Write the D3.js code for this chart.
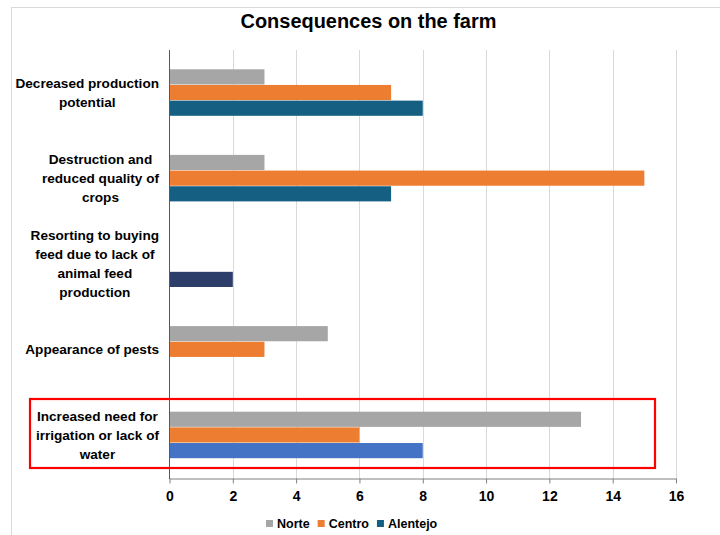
<!DOCTYPE html>
<html><head><meta charset="utf-8">
<script src="https://cdn.jsdelivr.net/npm/d3@7"></script>
<style>body{margin:0;background:#fff}svg{display:block}</style>
</head><body>
<script>
const categories = [
  ["Decreased production","potential"],
  ["Destruction and","reduced quality of","crops"],
  ["Resorting to buying","feed due to lack of","animal feed","production"],
  ["Appearance of pests"],
  ["Increased need for","irrigation or lack of","water"]
];
const seriesNames = ["Norte","Centro","Alentejo"];
const norte    = [3, 3, null, 5, 13];
const centro   = [7, 15, null, 3, 6];
const alentejo = [8, 7, 2, null, 8];
const xTicks = [0,2,4,6,8,10,12,14,16];
const colors = {Norte:"#A6A6A6", Centro:"#ED7D31", Alentejo:"#156082"};
// per-point colour overrides visible in the picture
const alentejoPointColors = [null, null, "#2E3E6B", null, "#4472C4"];

const W=720,H=535;
const svg=d3.select("body").append("svg").attr("width",W).attr("height",H);
const font="'Liberation Sans', Arial, sans-serif";

// chart frame
svg.append("rect").attr("x",11.5).attr("y",7.5).attr("width",W+20).attr("height",H+20)
  .attr("fill","#fff").attr("stroke","#D9D9D9").attr("stroke-width",1);

const x=d3.scaleLinear().domain([0,16]).range([169.5,676]);
const y=d3.scaleBand().domain(d3.range(categories.length)).range([50,478]).padding(0);
const groupH=47;
const ys=d3.scaleBand().domain(seriesNames).range([0,groupH]);

// gridlines
svg.append("g").selectAll("line").data(xTicks.slice(1)).join("line")
  .attr("x1",d=>Math.round(x(d))+0.5).attr("x2",d=>Math.round(x(d))+0.5)
  .attr("y1",50).attr("y2",478).attr("stroke","#D9D9D9").attr("stroke-width",1);

// bars
const data=[];
categories.forEach((c,i)=>{
  [["Norte",norte[i]],["Centro",centro[i]],["Alentejo",alentejo[i]]].forEach(([s,v])=>{
    if(v!=null){
      let col=colors[s];
      if(s==="Alentejo"&&alentejoPointColors[i]) col=alentejoPointColors[i];
      data.push({i,s,v,col});
    }
  });
});
svg.append("g").selectAll("rect").data(data).join("rect")
  .attr("x",x(0)).attr("width",d=>x(d.v)-x(0))
  .attr("y",d=>y(d.i)+y.bandwidth()/2-groupH/2+ys(d.s))
  .attr("height",ys.bandwidth()-0.5)
  .attr("fill",d=>d.col);

// x axis
const xa=svg.append("g").attr("transform","translate(0,478.5)")
  .call(d3.axisBottom(x).tickValues(xTicks).tickSize(5).tickSizeOuter(0).tickPadding(8));
xa.select(".domain").attr("stroke","#808080");
xa.selectAll(".tick line").attr("stroke","#808080");
xa.selectAll(".tick text").attr("font-family",font).attr("font-weight","bold")
  .attr("font-size",14).attr("fill","#000");

// vertical axis line
svg.append("line").attr("x1",169.5).attr("x2",169.5).attr("y1",50).attr("y2",479)
  .attr("stroke","#595959").attr("stroke-width",1);

// category labels
const lineH=19, labelRight=159;
const lg=svg.append("g");
categories.forEach((lines,i)=>{
  const g=lg.append("g");
  const cy=y(i)+y.bandwidth()/2;
  const texts=lines.map((t,k)=>g.append("text").text(t)
    .attr("font-family",font).attr("font-weight","bold").attr("font-size",13.6)
    .attr("fill","#000").attr("text-anchor","middle")
    .attr("y",cy+(k-(lines.length-1)/2)*lineH).attr("dy","0.35em"));
  const maxW=d3.max(texts,t=>t.node().getComputedTextLength());
  texts.forEach(t=>t.attr("x",labelRight-maxW/2));
});

// title
const title=svg.append("text").text("Consequences on the farm")
  .attr("x",368.5).attr("y",21.5).attr("dy","0.35em").attr("text-anchor","middle")
  .attr("font-family",font)
  .attr("font-weight","bold").attr("font-size",18).attr("fill","#000");
const tw=title.node().getComputedTextLength();
title.attr("font-size",Math.min(20,18*256/tw));

// highlight rectangle
svg.append("rect").attr("x",30).attr("y",399).attr("width",625).attr("height",69)
  .attr("fill","none").attr("stroke","#FF0000").attr("stroke-width",2.2);

// legend
const legendItems=[{n:"Norte",c:colors.Norte},{n:"Centro",c:colors.Centro},{n:"Alentejo",c:colors.Alentejo}];
const leg=svg.append("g");
let lx=266;
legendItems.forEach(it=>{
  leg.append("rect").attr("x",lx).attr("y",520).attr("width",7).attr("height",7).attr("fill",it.c);
  const t=leg.append("text").text(it.n).attr("x",lx+11).attr("y",523.5).attr("dy","0.35em")
    .attr("font-family",font).attr("font-weight","bold").attr("font-size",12.5).attr("fill","#000");
  lx+=11+t.node().getComputedTextLength()+8;
});
</script>
</body></html>
